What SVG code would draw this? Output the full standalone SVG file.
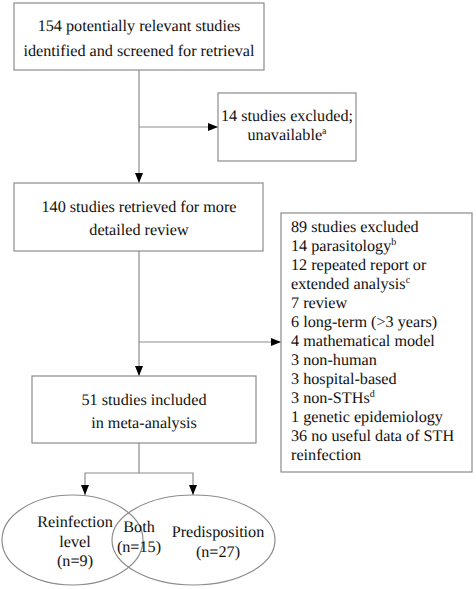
<svg xmlns="http://www.w3.org/2000/svg" width="476" height="589" viewBox="0 0 476 589">
<style>
.box{fill:#fff;stroke:#8c8c8c;stroke-width:1.2}
.ell{fill:none;stroke:#8c8c8c;stroke-width:1.2}
.ln{fill:none;stroke:#8c8c8c;stroke-width:1.2}
text{font-family:'Liberation Serif','Times New Roman',serif;font-size:16.2px;fill:#111;text-rendering:geometricPrecision}
.c{text-anchor:middle}
.sup{font-size:10px}
</style>
<defs>
<marker id="ah" markerWidth="10" markerHeight="8" refX="10" refY="4" orient="auto" markerUnits="userSpaceOnUse">
<path d="M0,0 L10,4 L0,8 Z" fill="#000"/>
</marker>
</defs>
<rect width="476" height="589" fill="#fff"/>
<g id="connectors">
<line class="ln" x1="139" y1="70" x2="139" y2="183" marker-end="url(#ah)"/>
<line class="ln" x1="139" y1="127" x2="218" y2="127" marker-end="url(#ah)"/>
<line class="ln" x1="139" y1="251" x2="139" y2="376" marker-end="url(#ah)"/>
<line class="ln" x1="139" y1="342" x2="281" y2="342" marker-end="url(#ah)"/>
<polyline class="ln" points="139,443 139,473 85,473 85,495" marker-end="url(#ah)"/>
<polyline class="ln" points="139,473 193,473 193,495" marker-end="url(#ah)"/>
</g>
<g id="n154">
<rect class="box" x="14" y="3" width="250" height="67"/>
<text class="c" x="139" y="31">154 potentially relevant studies</text>
<text class="c" x="139" y="56">identified and screened for retrieval</text>
</g>
<g id="n14">
<rect class="box" x="218" y="93" width="138" height="68"/>
<text class="c" x="287" y="121">14 studies excluded;</text>
<text class="c" x="287" y="140">unavailable<tspan class="sup" dy="-6">a</tspan></text>
</g>
<g id="n140">
<rect class="box" x="14" y="183" width="249" height="68"/>
<text class="c" x="139" y="212">140 studies retrieved for more</text>
<text class="c" x="139" y="235">detailed review</text>
</g>
<g id="n89">
<rect class="box" x="281" y="213" width="191" height="259"/>
<text x="291" y="232">89 studies excluded</text>
<text x="291" y="251">14 parasitology<tspan class="sup" dy="-6">b</tspan></text>
<text x="291" y="270">12 repeated report or</text>
<text x="291" y="289">extended analysis<tspan class="sup" dy="-6">c</tspan></text>
<text x="291" y="308">7 review</text>
<text x="291" y="327">6 long-term (&gt;3 years)</text>
<text x="291" y="346">4 mathematical model</text>
<text x="291" y="365">3 non-human</text>
<text x="291" y="384">3 hospital-based</text>
<text x="291" y="403">3 non-STHs<tspan class="sup" dy="-6">d</tspan></text>
<text x="291" y="422">1 genetic epidemiology</text>
<text x="291" y="441">36 no useful data of STH</text>
<text x="291" y="460">reinfection</text>
</g>
<g id="n51">
<rect class="box" x="32" y="376" width="224" height="67"/>
<text class="c" x="144" y="405">51 studies included</text>
<text class="c" x="144" y="428">in meta-analysis</text>
</g>
<g id="reinfection">
<ellipse class="ell" cx="72.5" cy="540" rx="70.5" ry="45"/>
<text class="c" x="75" y="527">Reinfection</text>
<text class="c" x="75" y="547">level</text>
<text class="c" x="75" y="566">(n=9)</text>
</g>
<g id="predisposition">
<ellipse class="ell" cx="193.5" cy="540" rx="81.5" ry="45"/>
<text class="c" x="218" y="537">Predisposition</text>
<text class="c" x="218" y="557">(n=27)</text>
</g>
<g id="both">
<text class="c" x="139" y="532">Both</text>
<text class="c" x="139" y="552">(n=15)</text>
</g>
</svg>
